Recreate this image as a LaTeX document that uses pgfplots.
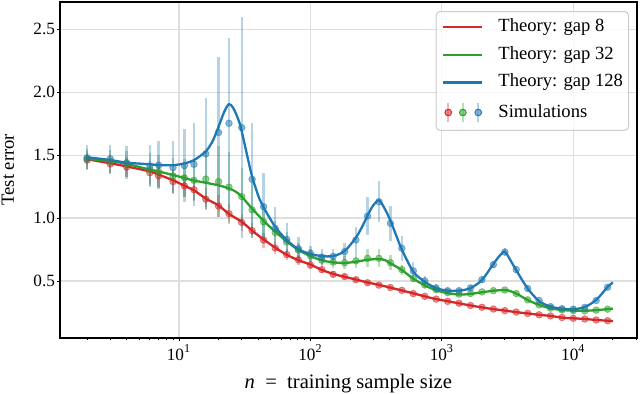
\documentclass[border=0pt]{standalone}
\usepackage{fontspec}
\setmainfont{Liberation Serif}
\usepackage{pgfplots}
\usepackage{pgfplotstable}
\pgfplotsset{compat=1.18}

\definecolor{c8}{HTML}{D62728}
\definecolor{c32}{HTML}{2CA02C}
\definecolor{c128}{HTML}{1F77B4}

% simulations: n, mean, std
\pgfplotstableread{
n y e
2 1.46 0.07
3 1.43 0.08
4 1.405 0.08
6 1.36 0.09
7 1.335 0.09
9 1.29 0.09
11 1.255 0.09
13 1.225 0.09
16 1.15 0.09
20 1.095 0.09
24 1.035 0.08
30 0.965 0.07
36 0.90 0.06
44 0.825 0.06
54 0.762 0.05
66 0.71 0.045
81 0.668 0.04
100 0.627 0.035
122 0.59 0.03
149 0.553 0.025
182 0.535 0.02
222 0.51 0.02
272 0.486 0.015
332 0.467 0.015
406 0.448 0.012
496 0.425 0.01
606 0.40 0.01
741 0.378 0.008
905 0.356 0.008
1106 0.338 0.007
1352 0.323 0.007
1652 0.305 0.006
2018 0.291 0.006
2466 0.277 0.005
3013 0.264 0.005
3681 0.253 0.005
4498 0.242 0.004
5495 0.231 0.004
6714 0.222 0.004
8203 0.21 0.004
10000 0.203 0.004
12218 0.198 0.004
14928 0.19 0.004
18239 0.184 0.004
}\simA

\pgfplotstableread{
n y e
2 1.47 0.08
3 1.45 0.09
4 1.43 0.10
6 1.385 0.13
7 1.37 0.13
9 1.335 0.14
11 1.32 0.15
13 1.30 0.16
16 1.31 0.22
20 1.29 0.28
24 1.245 0.28
30 1.17 0.23
36 1.065 0.22
44 0.97 0.14
54 0.885 0.09
66 0.81 0.08
81 0.745 0.06
100 0.70 0.05
122 0.665 0.05
149 0.65 0.05
182 0.645 0.05
222 0.66 0.06
272 0.68 0.07
332 0.68 0.07
406 0.645 0.06
496 0.59 0.04
606 0.52 0.03
741 0.468 0.02
905 0.43 0.015
1106 0.407 0.012
1352 0.395 0.01
1652 0.40 0.01
2018 0.413 0.01
2466 0.423 0.012
3013 0.428 0.012
3681 0.40 0.01
4498 0.35 0.008
5495 0.31 0.006
6714 0.284 0.005
8203 0.27 0.005
10000 0.264 0.004
12218 0.263 0.004
14928 0.268 0.004
18239 0.276 0.004
}\simB

\pgfplotstableread{
n y e
2 1.48 0.10
3 1.47 0.11
4 1.44 0.13
6 1.414 0.17
7 1.42 0.19
9 1.40 0.21
11 1.416 0.29
13 1.427 0.33
16 1.51 0.44
20 1.68 0.60
24 1.753 0.68
30 1.718 0.88
36 1.308 0.445
44 1.09 0.27
54 0.918 0.17
66 0.83 0.13
81 0.757 0.09
100 0.72 0.06
122 0.69 0.06
149 0.695 0.06
182 0.733 0.07
222 0.826 0.10
272 1.016 0.15
332 1.13 0.165
406 0.958 0.14
496 0.76 0.10
606 0.58 0.07
741 0.50 0.04
905 0.445 0.03
1106 0.423 0.02
1352 0.423 0.02
1652 0.445 0.02
2018 0.51 0.03
2466 0.63 0.03
3013 0.73 0.03
3681 0.59 0.03
4498 0.44 0.02
5495 0.345 0.01
6714 0.296 0.01
8203 0.28 0.008
10000 0.276 0.006
12218 0.29 0.008
14928 0.345 0.01
18239 0.45 0.015
}\simC

% theory curves
\pgfplotstableread{
n y
2 1.467
3 1.435
4 1.41
6 1.37
7 1.345
9 1.30
11 1.257
13 1.22
16 1.155
20 1.10
24 1.033
30 0.97
36 0.90
44 0.83
54 0.765
66 0.708
81 0.665
100 0.63
122 0.588
149 0.556
182 0.533
222 0.511
272 0.488
332 0.469
406 0.447
496 0.424
606 0.402
741 0.377
905 0.356
1106 0.339
1352 0.322
1652 0.305
2018 0.29
2466 0.276
3013 0.265
3681 0.252
4498 0.242
5495 0.231
6714 0.222
8203 0.209
10000 0.203
12218 0.198
14928 0.19
18239 0.184
20000 0.182
}\thA

\pgfplotstableread{
n y
2 1.47
3 1.453
4 1.43
6 1.385
7 1.37
9 1.342
11 1.318
13 1.298
16 1.28
20 1.26
24 1.235
27 1.21
30 1.17
36 1.075
44 0.978
54 0.892
66 0.815
81 0.746
100 0.698
122 0.664
149 0.648
182 0.643
222 0.653
272 0.668
332 0.675
370 0.665
406 0.64
496 0.587
606 0.518
741 0.465
905 0.426
1106 0.403
1352 0.392
1652 0.397
2018 0.41
2466 0.422
3013 0.428
3300 0.42
3681 0.40
4498 0.349
5495 0.309
6714 0.283
8203 0.269
10000 0.264
12218 0.263
14928 0.268
18239 0.276
20000 0.28
}\thB

\pgfplotstableread{
n y
2 1.483
3 1.461
4 1.44
6 1.427
7 1.421
9 1.42
11 1.434
13 1.46
16 1.53
18 1.61
20 1.725
22 1.84
24 1.905
26 1.87
29 1.75
32 1.56
36 1.33
41 1.15
44 1.085
54 0.93
66 0.826
81 0.752
100 0.714
122 0.698
149 0.698
182 0.738
222 0.845
250 0.94
272 1.02
300 1.10
332 1.14
365 1.08
406 0.98
450 0.86
496 0.75
606 0.574
741 0.494
905 0.443
1106 0.423
1352 0.423
1652 0.443
2018 0.508
2466 0.635
2750 0.70
3013 0.733
3300 0.67
3681 0.585
4498 0.44
5495 0.34
6714 0.296
8203 0.28
10000 0.275
12218 0.293
14928 0.349
18239 0.452
20000 0.488
}\thC

\pgfplotsset{
  sim/.style={only marks, mark=*, mark size=1.65pt, forget plot,
    mark options={fill=#1, fill opacity=0.5, draw=#1, draw opacity=0.55, line width=0.4pt},
    error bars/.cd, y dir=both, y explicit, error mark=none,
    error bar style={#1, opacity=0.33, line width=1.2pt}},
  theory/.style={#1, line width=1.15pt, smooth, no markers, forget plot},
}

\begin{document}
\begin{tikzpicture}
\begin{axis}[
  xmode=log,
  scale only axis, width=288.35pt, height=168pt,
  xmin=1.2436, xmax=30374,
  ymin=0.049, ymax=2.719,
  axis line style={line width=0.8pt},
  tick align=outside, xtick pos=left, ytick pos=left,
  major tick length=1.75pt, minor tick length=1pt,
  every tick/.style={black, line width=0.4pt},
  xtick={10,100,1000,10000},
  xticklabels={\mbox{10\textsuperscript{1}},\mbox{10\textsuperscript{2}},\mbox{10\textsuperscript{3}},\mbox{10\textsuperscript{4}}},
  minor xtick={2,3,4,5,6,7,8,9,20,30,40,50,60,70,80,90,200,300,400,500,600,700,800,900,2000,3000,4000,5000,6000,7000,8000,9000,20000,30000},
  ytick={0.5,1,1.5,2,2.5},
  yticklabels={\mbox{0.5},\mbox{1.0},\mbox{1.5},\mbox{2.0},\mbox{2.5}},
  tick label style={font=\fontsize{8.6}{10}\selectfont, inner sep=0pt},
  xticklabel style={anchor=north, yshift=-1.6pt},
  yticklabel style={anchor=east, xshift=-0.6pt},
  xmajorgrids, ymajorgrids,
  major grid style={black!13, line width=0.6pt},
  xlabel={\textit{n}\hspace{0.5em}=\hspace{0.5em}training sample size},
  ylabel={Test error},
  xlabel style={at={(axis description cs:0.5,0)}, anchor=base, yshift=-25.15pt, font=\fontsize{10.3}{12}\selectfont, inner sep=0pt},
  ylabel style={at={(axis description cs:-0.0798,0.5)}, anchor=base, font=\fontsize{9.3}{11}\selectfont, inner sep=0pt},
  legend image code/.code={\draw[#1] (0pt,0pt) -- (19.7pt,0pt);},
  legend cell align=left,
  legend style={at={(axis description cs:1,1)}, anchor=north east,
    xshift=-3.85pt, yshift=-4.65pt,
    draw=black!20, line width=0.5pt, rounded corners=2pt,
    fill=white, fill opacity=0.8, text opacity=1,
    font=\fontsize{9.3}{11}\selectfont,
    inner xsep=2.8pt, inner ysep=3.6pt,
    row sep=5.55pt, column sep=7.5pt,
    nodes={inner sep=0pt, text height=6.4pt, text depth=1.9pt}},
]
\addplot[sim=c8] table[x=n, y=y, y error=e] {\simA};
\addplot[sim=c32] table[x=n, y=y, y error=e] {\simB};
\addplot[sim=c128] table[x=n, y=y, y error=e] {\simC};

\addplot[theory=c8] table[x=n, y=y] {\thA};
\addplot[theory=c32] table[x=n, y=y] {\thB};
\addplot[theory=c128] table[x=n, y=y] {\thC};

\addlegendimage{c8, line width=1.15pt}
\addlegendentry{Theory: gap 8}
\addlegendimage{c32, line width=1.15pt}
\addlegendentry{Theory: gap 32}
\addlegendimage{c128, line width=1.15pt}
\addlegendentry{Theory: gap 128}
\addlegendimage{legend image code/.code={
  \draw[c8, opacity=0.33, line width=1.2pt] (2.7pt,-4.75pt) -- (2.7pt,4.75pt);
  \fill[c8, fill opacity=0.5] (2.7pt,0pt) circle (1.65pt);
  \draw[c32, opacity=0.33, line width=1.2pt] (10pt,-4.75pt) -- (10pt,4.75pt);
  \fill[c32, fill opacity=0.5] (10pt,0pt) circle (1.65pt);
  \draw[c128, opacity=0.33, line width=1.2pt] (17.7pt,-4.75pt) -- (17.7pt,4.75pt);
  \fill[c128, fill opacity=0.5] (17.7pt,0pt) circle (1.65pt);
}}
\addlegendentry{Simulations}
\end{axis}
\pgfresetboundingbox
\path ([shift={(-30pt,-27.65pt)}]current axis.south west) rectangle ([shift={(1.65pt,0.85pt)}]current axis.north east);
\end{tikzpicture}
\end{document}
